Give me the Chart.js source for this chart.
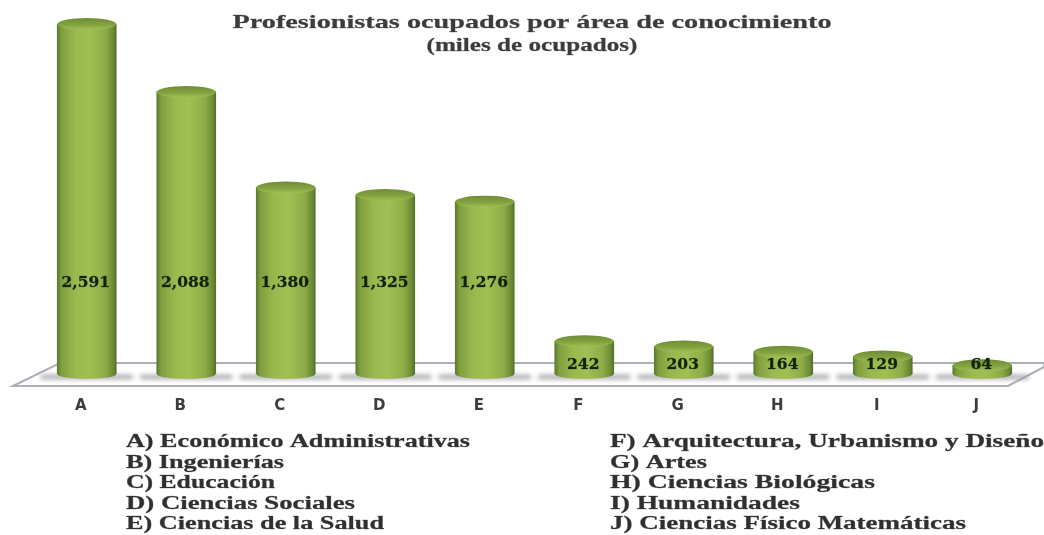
<!DOCTYPE html>
<html><head><meta charset="utf-8">
<style>html,body{margin:0;padding:0;background:#fff;overflow:hidden}#w{width:1044px;height:535px;position:relative}canvas{display:block;filter:blur(0.6px)}</style>
<script src="https://cdn.jsdelivr.net/npm/chart.js@4/dist/chart.umd.min.js"></script>
</head><body><div id="w"><canvas id="c" width="1044" height="535"></canvas></div>
<script>
const categories=['A','B','C','D','E','F','G','H','I','J'];
const values=[2591,2088,1380,1325,1276,242,203,164,129,64];
const titleLines=['Profesionistas ocupados por área de conocimiento','(miles de ocupados)'];
const legendLeft=['A) Económico Administrativas','B) Ingenierías','C) Educación','D) Ciencias Sociales','E) Ciencias de la Salud'];
const legendRight=['F) Arquitectura, Urbanismo y Diseño','G) Artes','H) Ciencias Biológicas','I) Humanidades','J) Ciencias Físico Matemáticas'];
const BAR=59, SERIF='"Liberation Serif",serif';
const titleWidths=[599,211], leftWidths=[344,158,149,229,258], rightWidths=[434,97,265,190,356];

function sideGrad(ctx,cx){
  const g=ctx.createLinearGradient(cx-BAR/2,0,cx+BAR/2,0);
  g.addColorStop(0,'#5d7a2e');g.addColorStop(.07,'#7f9e3e');g.addColorStop(.3,'#99b94f');
  g.addColorStop(.55,'#a0c054');g.addColorStop(.82,'#8dac47');g.addColorStop(.95,'#6c8a34');g.addColorStop(1,'#55702a');
  return g;
}
// draws text stretched horizontally to the width it has in the reference
function fit(c,s,x,y,w){const m=c.measureText(s).width;c.save();c.translate(x,y);c.scale(w/m,1);c.fillText(s,0,0);c.strokeText(s,0,0);c.restore();}
const cyl={
  id:'cyl',
  beforeDatasetsDraw(ch){
    const c=ch.ctx,x=ch.scales.x,y=ch.scales.y,base=y.getPixelForValue(0);
    c.save();
    c.beginPath();c.moveTo(13,386);c.lineTo(60,363);c.lineTo(1044,363);c.lineTo(1044,367);c.lineTo(1008,386);c.closePath();
    c.fillStyle='#fff';c.fill();c.strokeStyle='#aeb0b8';c.lineWidth=2;c.stroke();
    c.filter='blur(2.5px)';c.fillStyle='#9a9ca0';
    categories.forEach((_,i)=>{
      const cx=x.getPixelForValue(i);
      c.fillRect(cx-46,base+1,92,4);
    });
    c.filter='none';
    c.restore();
  },
  afterDatasetsDraw(ch){
    const c=ch.ctx,x=ch.scales.x,y=ch.scales.y,base=y.getPixelForValue(0);
    c.save();
    categories.forEach((_,i)=>{
      const cx=x.getPixelForValue(i),t=y.getPixelForValue(values[i]);
      c.beginPath();c.ellipse(cx,base,BAR/2,5,0,0,Math.PI);c.fillStyle=sideGrad(c,cx);c.fill();
      const g=c.createLinearGradient(0,t-6,0,t+6);
      g.addColorStop(0,'#6f8d35');g.addColorStop(.55,'#82a23f');g.addColorStop(1,'#a3c158');
      c.beginPath();c.ellipse(cx,t,BAR/2,6,0,0,Math.PI*2);c.fillStyle=g;c.fill();
    });
    c.font='bold 15.5px "DejaVu Serif",serif';c.textAlign='center';c.textBaseline='middle';
    c.fillStyle='#14240c';c.strokeStyle='rgba(20,36,12,.55)';c.lineWidth=.5;
    values.forEach((v,i)=>{
      const cx=x.getPixelForValue(i),py=v>1000?283:365,s=v.toLocaleString('en-US');
      c.fillText(s,cx-1,py);c.strokeText(s,cx-1,py);
    });
    c.textAlign='left';c.textBaseline='alphabetic';
    c.fillStyle='#3c3c3c';c.strokeStyle='rgba(60,60,60,.6)';c.lineWidth=.4;c.font='bold 19px '+SERIF;
    titleLines.forEach((s,i)=>fit(c,s,532-titleWidths[i]/2,28+i*23,titleWidths[i]));
    c.font='bold 18px '+SERIF;c.fillStyle='#303030';c.strokeStyle='rgba(48,48,48,.6)';
    legendLeft.forEach((s,i)=>fit(c,s,126,447+i*20.6,leftWidths[i]));
    legendRight.forEach((s,i)=>fit(c,s,610,447+i*20.6,rightWidths[i]));
    c.restore();
  }
};
new Chart(document.getElementById('c'),{
  type:'bar',
  data:{labels:categories,datasets:[{data:values,barThickness:BAR,borderWidth:0,
    backgroundColor:(k)=>{const s=k.chart.scales.x;const p=s?s.getPixelForValue(k.dataIndex):NaN;return Number.isFinite(p)?sideGrad(k.chart.ctx,p):'#9ab94f';}}]},
  options:{
    responsive:false,animation:false,
    layout:{padding:{left:37,right:12,top:24,bottom:105}},
    plugins:{legend:{display:false},tooltip:{enabled:false},title:{display:false}},
    scales:{
      x:{offset:true,grid:{display:false},border:{display:false},
        ticks:{padding:15,labelOffset:-6,color:'#3d3d3d',font:{family:'"DejaVu Sans",Arial,sans-serif',weight:'bold',size:15},maxRotation:0}},
      y:{display:false,min:0,max:2591}
    }
  },
  plugins:[cyl]
});
</script></body></html>
